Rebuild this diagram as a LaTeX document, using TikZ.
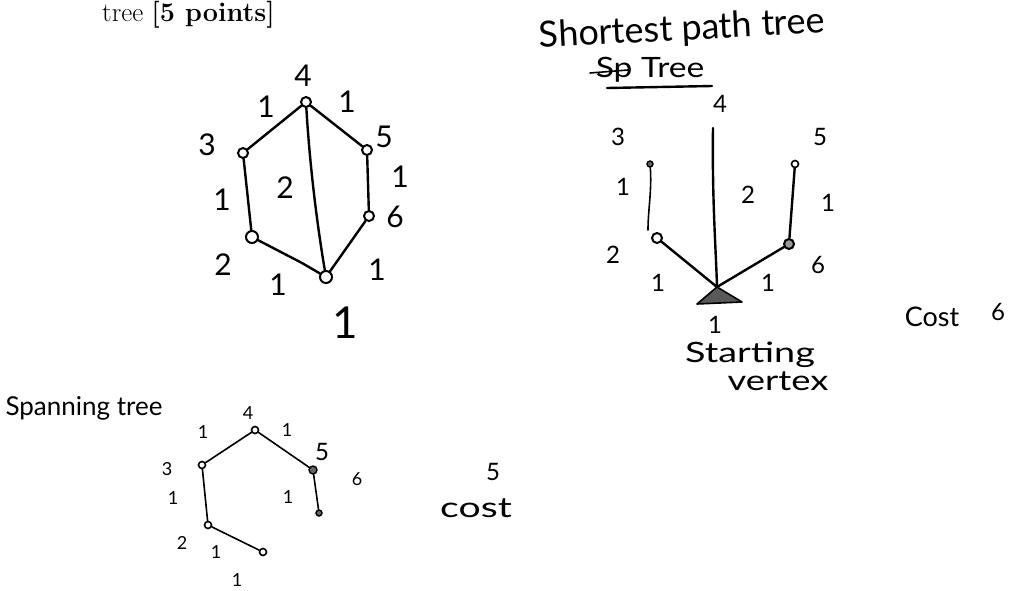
\documentclass[tikz,border=0pt]{standalone}
\usepackage{fontspec}
\newfontfamily\hand{Lato}
\begin{document}
\begin{tikzpicture}[x=1pt,y=-1pt,
  edge/.style={line width=2.4pt, line cap=round},
  thinedge/.style={line width=1.6pt, line cap=round},
  vtx/.style={circle, draw, line width=2pt, fill=white, inner sep=0pt, minimum size=10pt},
  svtx/.style={circle, draw, line width=1.6pt, fill=white, inner sep=0pt, minimum size=7pt},
  sdot/.style={circle, draw, line width=1.4pt, fill=black!60, inner sep=0pt, minimum size=6pt},
  big/.style={font=\hand\fontsize{30}{32}\selectfont},
  huge/.style={font=\hand\fontsize{44}{46}\selectfont},
  mid/.style={font=\hand\fontsize{24}{26}\selectfont},
  wide/.style={font=\hand\fontsize{28}{30}\selectfont},
  small/.style={font=\hand\fontsize{18}{20}\selectfont},
]
\useasboundingbox (0,0) rectangle (1026,590);

% header
\node[anchor=base west, font=\fontsize{27}{32}\selectfont, inner sep=0pt] (hdr) at (102,21) {tree \textbf{[5 points]}};

% ---------- left graph ----------
\node[vtx] (L4) at (306,102) {};
\node[vtx] (L3) at (243,153) {};
\node[vtx] (L5) at (367,150) {};
\node[vtx] (L6) at (369,216) {};
\node[vtx, minimum size=12pt] (L2) at (252,237) {};
\node[vtx, minimum size=12pt] (L1) at (326,277) {};
\coordinate (Lb) at (302,263);
\draw[edge] (L4) -- (L3);
\draw[edge] (L3) -- (L2);
\draw[edge] (L2) -- (Lb) -- (L1);
\draw[edge] (L1) -- (L6);
\draw[edge] (L6) -- (L5);
\draw[edge] (L5) -- (L4);
\draw[edge] (L4) .. controls (310,170) and (318,230) .. (L1);

\node[big] (l4) at (303,76) {4};
\node[big] (l3) at (207,145) {3};
\node[big] (l5) at (384,137) {5};
\node[big] (l6) at (395,217) {6};
\node[big] (l2) at (223,265) {2};
\node[huge] (l1) at (345,323) {1};
\node[big] (e43) at (266,107) {1};
\node[big] (e45) at (347,102) {1};
\node[big] (e32) at (222,200) {1};
\node[big] (e41) at (285,188) {2};
\node[big] (e56) at (400,177) {1};
\node[big] (e21) at (278,285) {1};
\node[big] (e61) at (377,270) {1};

% ---------- shortest path tree ----------
\node[font=\hand\fontsize{36}{38}\selectfont, rotate=3] (sptitle) at (682,30) {Shortest path tree};
\node[wide] (sptree) at (650,70) {\scalebox{1.2}[1]{Sp Tree}};
\draw[thinedge] (590,73) -- (628,70);
\draw[edge] (607,88) -- (712,86);

\node[sdot] (R3) at (650,164) {};
\node[vtx] (R2) at (657,238) {};
\node[vtx, fill=black!40] (R6) at (789,244) {};
\node[svtx] (R5) at (795,164) {};
\coordinate (R4) at (713,128);
\coordinate (R1) at (717,287);
\filldraw[line width=1.6pt, fill=black!65, line join=round] (697,304) -- (R1) -- (742,302) -- cycle;
\draw[thinedge] (R3) .. controls (652,190) and (648,210) .. (648,230);
\draw[edge] (R2) -- (R1);
\draw[edge] (R4) .. controls (712,200) and (716,250) .. (R1);
\draw[edge] (R6) -- (R1);
\draw[edge] (R5) -- (R6);

\node[mid] (r4) at (720,104) {4};
\node[mid] (r3) at (618,137) {3};
\node[mid] (r5) at (820,137) {5};
\node[mid] (r2) at (613,255) {2};
\node[mid] (r6) at (818,265) {6};
\node[mid] (r1) at (715,325) {1};
\node[mid] (f32) at (623,187) {1};
\node[mid] (f41) at (748,195) {2};
\node[mid] (f56) at (828,203) {1};
\node[mid] (f21) at (658,283) {1};
\node[mid] (f61) at (768,283) {1};
\node[wide] (start) at (750,355) {\scalebox{1.35}[1]{Starting}};
\node[wide] (vert) at (778,381) {\scalebox{1.3}[1]{vertex}};
\node[font=\hand\fontsize{27}{29}\selectfont] (cost6) at (932,317) {Cost};
\node[mid] (six) at (998,312) {6};

% ---------- spanning tree ----------
\node[font=\hand\fontsize{26}{28}\selectfont] (sttitle) at (84,408) {Spanning tree};
\node[svtx] (S4) at (255,430) {};
\node[svtx] (S3) at (202,465) {};
\node[svtx] (S2) at (208,525) {};
\node[svtx] (S1) at (263,552) {};
\node[sdot, minimum size=8pt] (S5) at (313,470) {};
\node[sdot] (S6) at (319,513) {};
\draw[thinedge] (S4) -- (S3);
\draw[thinedge] (S3) -- (S2);
\draw[thinedge] (S2) -- (S1);
\draw[thinedge] (S4) -- (S5);
\draw[thinedge] (S5) -- (S6);

\node[small] (s4) at (248,413) {4};
\node[small] (s3) at (167,469) {3};
\node[small] (s2) at (182,543) {2};
\node[small] (s1) at (237,580) {1};
\node[mid] (s5) at (322,452) {5};
\node[small] (s6) at (357,479) {6};
\node[small] (g43) at (203,432) {1};
\node[small] (g45) at (287,430) {1};
\node[small] (g32) at (173,498) {1};
\node[small] (g56) at (288,497) {1};
\node[small] (g21) at (216,552) {1};
\node[mid] (c5) at (493,472) {5};
\node[wide] (cost5) at (476,508) {\scalebox{1.4}[1]{cost}};
\end{tikzpicture}
\end{document}
